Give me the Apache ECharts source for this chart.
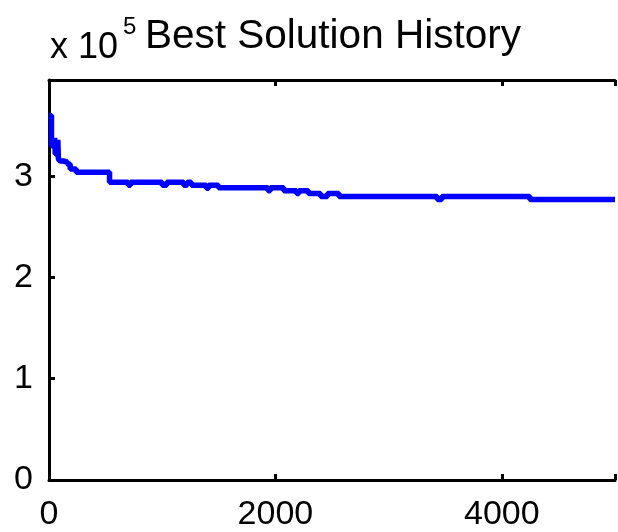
<!DOCTYPE html>
<html>
<head>
<meta charset="utf-8">
<script src="https://cdn.jsdelivr.net/npm/echarts@6/dist/echarts.min.js"></script>
<style>
html, body {margin: 0; padding: 0; background: #fff;}
#main {width: 618px; height: 532px;}
</style>
</head>
<body>
<div id="main"></div>
<script>
// best solution history (iteration, cost)
var iterations = [0, 22, 50, 55, 78, 83, 100, 126, 160, 187, 240, 535, 700, 720, 1000, 1040, 1190, 1220, 1257, 1390, 1410, 1497, 1935, 1955, 2074, 2187, 2207, 2291, 2400, 2460, 2561, 3430, 3470, 4248, 5000];
var bestCost = [360000, 330000, 338000, 322000, 336000, 317000, 315000, 314000, 312000, 307000, 304000, 294000, 291000, 294000, 291000, 294000, 291000, 294000, 291000, 288000, 291000, 288500, 285700, 288500, 285700, 283000, 285700, 283000, 280000, 283000, 280000, 277000, 280000, 277000, 277000];
var xTicks = [0, 2000, 4000];
var yTicks = [0, 1, 2, 3];

function examp(id){
    var dom = document.getElementById(id);
    var myChart = echarts.init(dom);
    var points = iterations.map(function (it, i) { return [it, bestCost[i]]; });
    var font = 'Liberation Sans';
    var option = {
        backgroundColor: '#fff',
        animation: false,
        title: [
            {text: 'Best Solution History', left: 145, top: 16, padding: 0,
             textStyle: {fontSize: 40.5, fontWeight: 'normal', color: '#000', fontFamily: font}},
            {text: 'x 10', left: 50, top: 30, padding: 0,
             textStyle: {fontSize: 36, fontWeight: 'normal', color: '#000', fontFamily: font}},
            {text: '5', left: 123, top: 15, padding: 0,
             textStyle: {fontSize: 24, fontWeight: 'normal', color: '#000', fontFamily: font}}
        ],
        grid: {left: 49, top: 80, width: 575, height: 405, containLabel: false},
        xAxis: [
            {
                type: 'value', min: 0, max: 5000, interval: 2000,
                axisLine: {lineStyle: {color: '#000', width: 3}},
                axisTick: {inside: true, length: 6, lineStyle: {width: 3, color: '#000'}},
                axisLabel: {
                    fontSize: 34, color: '#000', fontFamily: font, margin: 18,
                    formatter: function (v) { return xTicks.indexOf(v) >= 0 ? String(v) : ''; }
                },
                splitLine: {show: false}
            },
            {
                type: 'value', position: 'top', min: 0, max: 5000, interval: 2000,
                axisLine: {lineStyle: {color: '#000', width: 3}},
                axisTick: {inside: true, length: 6, lineStyle: {width: 3, color: '#000'}},
                axisLabel: {show: false},
                splitLine: {show: false}
            }
        ],
        yAxis: {
            type: 'value', min: 0, max: 395000, interval: 100000,
            axisLine: {show: true, lineStyle: {color: '#000', width: 3}},
            axisTick: {inside: true, length: 6, lineStyle: {width: 3, color: '#000'}},
            axisLabel: {
                fontSize: 34, color: '#000', fontFamily: font, margin: 16,
                formatter: function (v) {
                    var t = v / 100000;
                    return yTicks.indexOf(t) >= 0 ? String(t) : '';
                }
            },
            splitLine: {show: false}
        },
        series: [{
            type: 'line',
            step: 'end',
            data: points,
            symbol: 'none',
            lineStyle: {color: '#0000ff', width: 5.5},
            clip: true
        }]
    };
    if (option && typeof option === "object") {
        myChart.setOption(option, true);
    }
};
examp('main');
</script>
</body>
</html>
